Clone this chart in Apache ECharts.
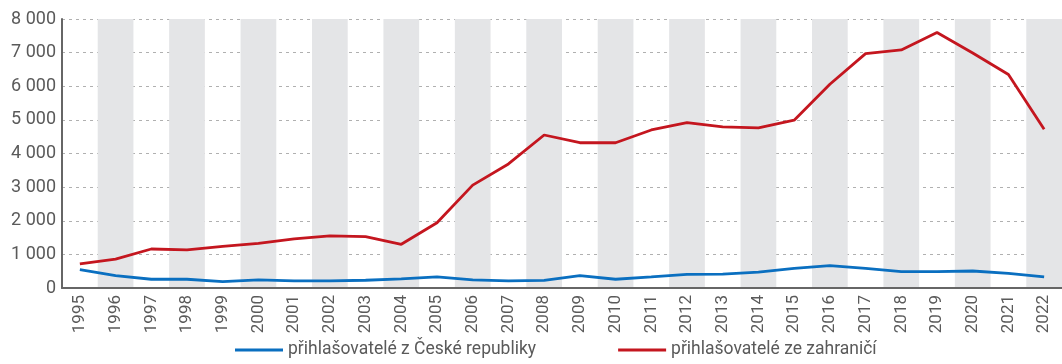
<!DOCTYPE html>
<html>
<head>
<meta charset="utf-8">
<script src="https://cdn.jsdelivr.net/npm/echarts@6/dist/echarts.min.js"></script>
<style>
  html, body { margin: 0; padding: 0; background: #fff; }
  #chart { width: 1062px; height: 364px; }
</style>
</head>
<body>
<div id="chart"></div>
<script>
// Years on the horizontal axis
const years = ['1995','1996','1997','1998','1999','2000','2001','2002','2003','2004','2005','2006','2007','2008','2009','2010','2011','2012','2013','2014','2015','2016','2017','2018','2019','2020','2021','2022'];

// Applicants from the Czech Republic
const domestic = [550, 370, 260, 260, 190, 240, 210, 210, 230, 270, 330, 240, 210, 225, 370, 260, 330, 405, 415, 475, 585, 665, 585, 485, 485, 505, 435, 330];

// Applicants from abroad
const foreign = [715, 860, 1160, 1135, 1240, 1330, 1460, 1550, 1530, 1300, 1940, 3060, 3690, 4550, 4320, 4320, 4700, 4920, 4790, 4760, 4990, 6060, 6970, 7080, 7600, 6990, 6350, 4720];

const seriesNames = ['přihlašovatelé z České republiky', 'přihlašovatelé ze zahraničí'];

const FONT = 'Roboto';
const TEXT = '#5a5a5a';

const chart = echarts.init(document.getElementById('chart'), null, { renderer: 'canvas' });

chart.setOption({
  animation: false,
  textStyle: { fontFamily: FONT },
  grid: { left: 62, right: -2, top: 19, bottom: 76, containLabel: false },
  legend: {
    bottom: 0,
    left: 230,
    itemWidth: 48,
    itemHeight: 3,
    itemGap: 82,
    icon: 'rect',
    textStyle: { fontFamily: FONT, fontSize: 17.5, color: TEXT },
    data: seriesNames
  },
  xAxis: {
    type: 'category',
    data: years,
    boundaryGap: true,
    axisLine: { show: true, lineStyle: { color: '#666', width: 2 } },
    axisTick: { show: false },
    axisLabel: { rotate: 90, fontSize: 17, color: TEXT, margin: 7, fontFamily: FONT, interval: 0 },
    splitLine: { show: false },
    splitArea: { show: true, interval: 0, areaStyle: { color: ['rgba(255,255,255,0)', '#e4e5e7'] } }
  },
  yAxis: {
    type: 'value',
    min: 0,
    max: 8000,
    interval: 1000,
    axisLine: { show: true, lineStyle: { color: '#666', width: 2 } },
    axisTick: { show: false },
    axisLabel: {
      fontSize: 18, color: TEXT, margin: 6, fontFamily: FONT,
      formatter: v => String(v).replace(/\B(?=(\d{3})+(?!\d))/g, ' ')
    },
    splitLine: { show: true, lineStyle: { color: '#b0b0b0', type: [3, 4], width: 1 } }
  },
  series: [
    {
      name: seriesNames[0],
      type: 'line',
      data: domestic,
      symbol: 'none',
      z: 3,
      color: '#0a6fc0',
      lineStyle: { width: 2.8, color: '#0a6fc0' }
    },
    {
      name: seriesNames[1],
      type: 'line',
      data: foreign,
      symbol: 'none',
      z: 3,
      color: '#c4161f',
      lineStyle: { width: 2.8, color: '#c4161f' }
    }
  ]
});
</script>
</body>
</html>
